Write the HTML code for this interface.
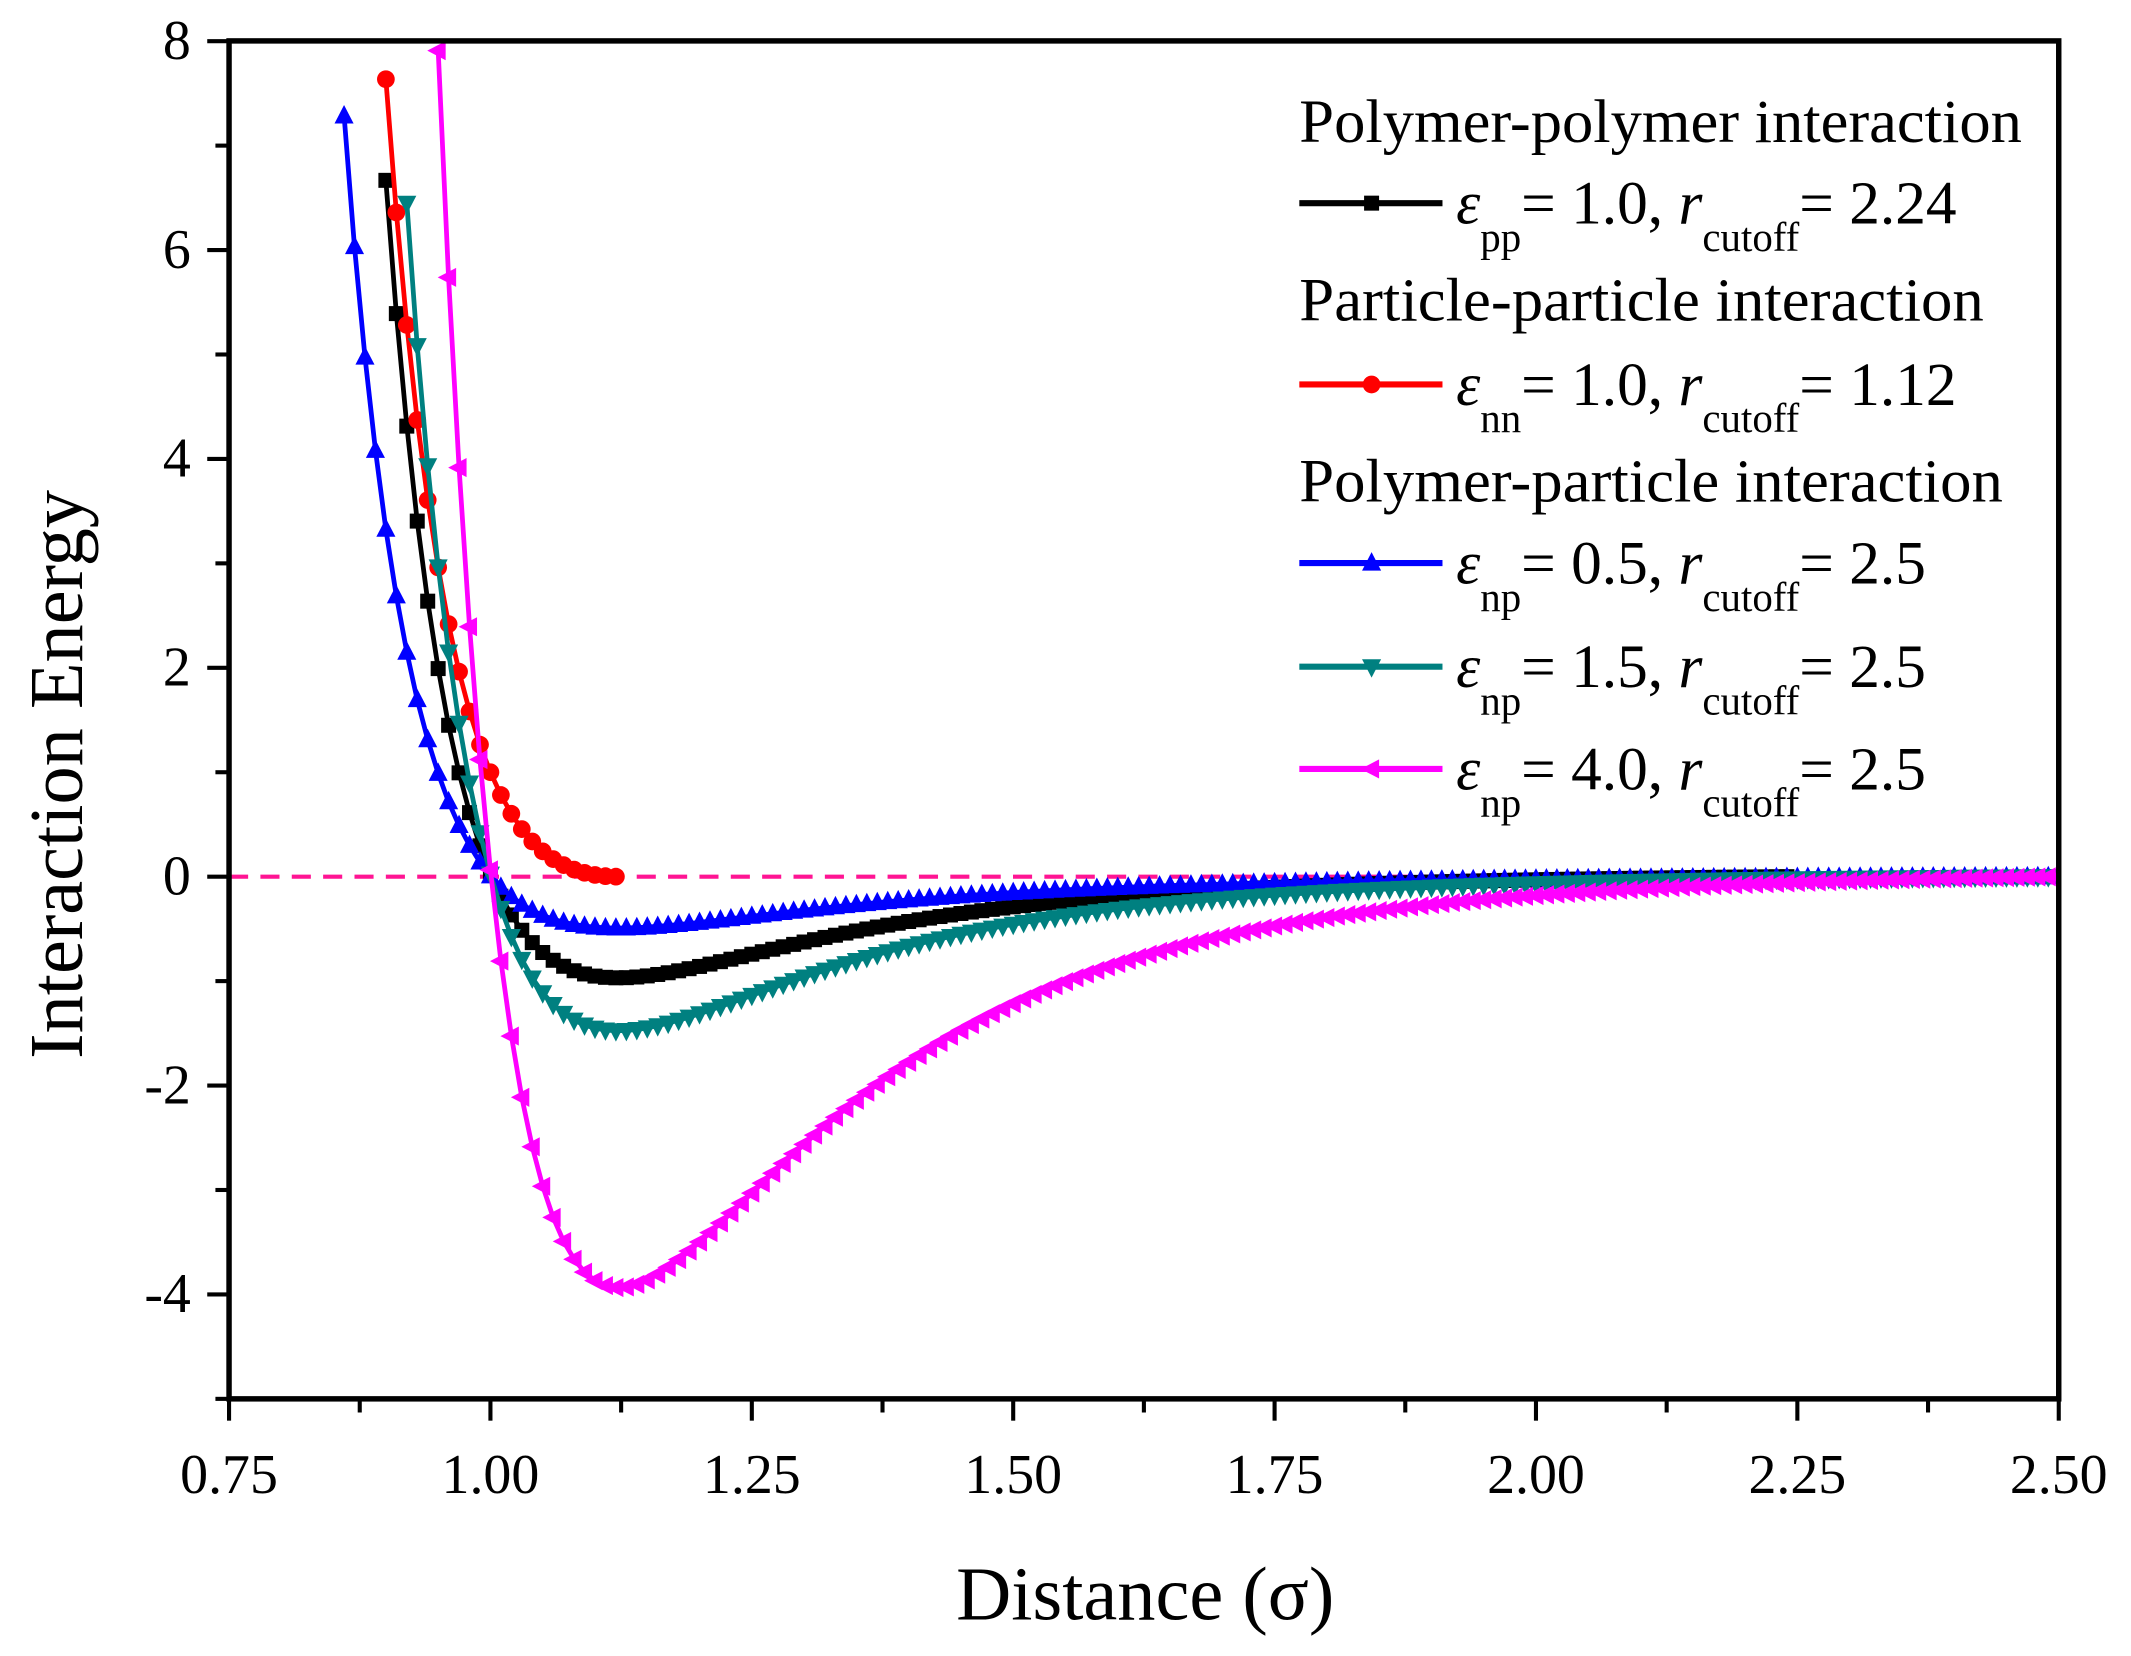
<!DOCTYPE html>
<html><head><meta charset="utf-8"><style>
html,body{margin:0;padding:0;background:#fff}
svg{display:block}
text{font-family:"Liberation Serif",serif;fill:#000}
</style></head><body>
<svg id="s" width="2131" height="1656" viewBox="0 0 1563 1214.6" xmlns="http://www.w3.org/2000/svg">
<defs><clipPath id="c"><rect x="168" y="30" width="1342" height="996"/></clipPath></defs>
<g id="ticks" stroke="#000" stroke-width="3"></g>
<g id="tl" font-size="41"></g>
<line x1="168" y1="643" x2="1510" y2="643" stroke="#ff1493" stroke-width="3" stroke-dasharray="14,9"/>
<g id="series" clip-path="url(#c)"></g>
<rect x="168" y="30" width="1342" height="996" fill="none" stroke="#000" stroke-width="4"/>
<text x="840" y="1188" font-size="56" text-anchor="middle">Distance (σ)</text>
<text transform="translate(60,568) rotate(-90)" font-size="56" text-anchor="middle">Interaction Energy</text>
<g font-size="45" id="leg">
<text x="953" y="104" textLength="530" lengthAdjust="spacingAndGlyphs">Polymer-polymer interaction</text>
<text x="953" y="235" textLength="502" lengthAdjust="spacingAndGlyphs">Particle-particle interaction</text>
<text x="953" y="368" textLength="516" lengthAdjust="spacingAndGlyphs">Polymer-particle interaction</text>
</g>
</svg>
<script>
var X=function(r){return 168+(r-0.75)*1342/1.75},Y=function(u){return 643-u*76.6};
var ns="http://www.w3.org/2000/svg";
function el(p,t,a,txt){var e=document.createElementNS(ns,t);for(var k in a)e.setAttribute(k,a[k]);if(txt)e.textContent=txt;p.appendChild(e);return e;}
var tk=document.getElementById('ticks'),tl=document.getElementById('tl');
for(var i=0;i<=14;i++){var r=0.75+i*0.125,x=X(r),maj=i%2==0;el(tk,'line',{x1:x,y1:1026,x2:x,y2:maj?1042:1036});
if(maj)el(tl,'text',{x:x,y:1095,'text-anchor':'middle'},r.toFixed(2));}
for(var u=-5;u<=8;u++){var y=Y(u),maj=(u%2==0);el(tk,'line',{x1:168,y1:y,x2:maj?152:158,y2:y});
if(maj)el(tl,'text',{x:140,y:y+13,'text-anchor':'end'},String(u));}
function mk(g,t,x,y,col){
 if(t=='sq')el(g,'rect',{x:x-5.5,y:y-5.5,width:11,height:11,fill:col});
 else if(t=='ci')el(g,'circle',{cx:x,cy:y,r:6.5,fill:col});
 else if(t=='up')el(g,'polygon',{points:x+','+(y-8)+' '+(x-7)+','+(y+5.5)+' '+(x+7)+','+(y+5.5),fill:col});
 else if(t=='dn')el(g,'polygon',{points:x+','+(y+8)+' '+(x-7)+','+(y-5.5)+' '+(x+7)+','+(y-5.5),fill:col});
 else el(g,'polygon',{points:(x-8)+','+y+' '+(x+5.5)+','+(y-7)+' '+(x+5.5)+','+(y+7),fill:col});
}
function lj(e,r){var a=Math.pow(1/r,6);return 4*e*(a*a-a);}
var S=[[1,0.90,2.24,-lj(1,2.24),'#000','sq'],[1,0.90,1.12,1,'#ff0000','ci'],[0.5,0.86,2.5,-lj(0.5,2.5),'#0000ff','up'],[1.5,0.92,2.5,-lj(1.5,2.5),'#008080','dn'],[4,0.95,2.5,-lj(4,2.5),'#ff00ff','lt']];
var sg=document.getElementById('series');
S.forEach(function(s){var g=el(sg,'g',{}),pts=[],d='';
 for(var r=s[1];r<=s[2]+1e-6;r+=0.01){var u=lj(s[0],r)+s[3];pts.push([X(r),Y(u)]);}
 d='M'+pts.map(function(p){return p[0].toFixed(1)+','+p[1].toFixed(1)}).join('L');
 el(g,'path',{d:d,fill:'none',stroke:s[4],'stroke-width':3.5});
 pts.forEach(function(p){mk(g,s[5],p[0],p[1],s[4]);});
});
var lg=document.getElementById('leg');
var L=[[149,'pp','1.0','2.24'],[282,'nn','1.0','1.12'],[413,'np','0.5','2.5'],[489,'np','1.5','2.5'],[564,'np','4.0','2.5']];
L.forEach(function(l,i){var s=S[i],yl=l[0];
 el(lg,'line',{x1:953,y1:yl,x2:1058,y2:yl,stroke:s[4],'stroke-width':4.5});mk(lg,s[5],1006,yl,s[4]);
 var t=el(lg,'text',{x:1068,y:yl+15});
 el(t,'tspan',{'font-style':'italic'},'ε');el(t,'tspan',{dy:20,'font-size':30},l[1]);
 el(t,'tspan',{dy:-20},'= '+l[2]+', ');el(t,'tspan',{'font-style':'italic'},'r');
 el(t,'tspan',{dy:20,'font-size':30},'cutoff');el(t,'tspan',{dy:-20},'= '+l[3]);
});
</script>
</body></html>
